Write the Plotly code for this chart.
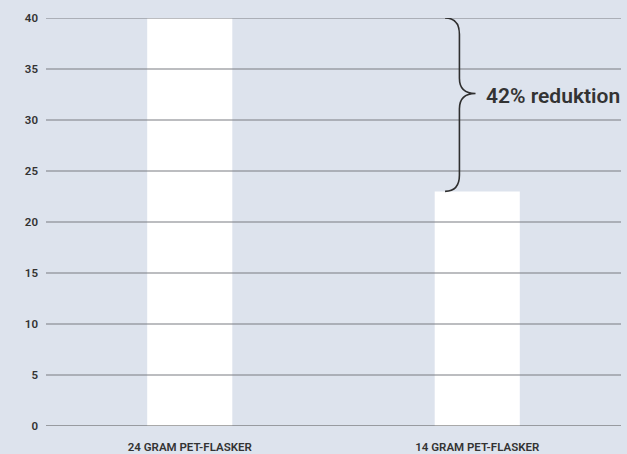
import plotly.graph_objects as go

categories = ["24 GRAM PET-FLASKER", "14 GRAM PET-FLASKER"]
values = [40, 23]
y_ticks = [0, 5, 10, 15, 20, 25, 30, 35, 40]
brace_top = 40
brace_bottom = 23
brace_point = 32.6
label_text = "42% reduktion"

BG = "#dde3ed"
FONT = "Roboto"

fig = go.Figure()
fig.add_trace(go.Bar(
    x=categories, y=values,
    marker=dict(color="#ffffff", line=dict(width=0)),
    hoverinfo="skip",
))

shapes = []
for t in y_ticks:
    shapes.append(dict(
        type="line", xref="paper", yref="y", x0=0, x1=1, y0=t, y1=t,
        line=dict(color="#555555" if t == 0 else "#7a7d82", width=1.2),
        layer="above",
    ))

# curly brace in paper-x / data-y coordinates
x0, xs, xp = 0.694, 0.719, 0.747
path = (
    f"M {x0},{brace_top} "
    f"Q {xs},{brace_top} {xs},{brace_top-1.6} "
    f"L {xs},{brace_point+1.5} "
    f"Q {xs},{brace_point} {xp},{brace_point} "
    f"Q {xs},{brace_point} {xs},{brace_point-1.5} "
    f"L {xs},{brace_bottom+1.6} "
    f"Q {xs},{brace_bottom} {x0},{brace_bottom}"
)
shapes.append(dict(type="path", xref="paper", yref="y", path=path,
                   line=dict(color="#2f2f2f", width=1.6), layer="above"))

fig.update_layout(
    width=627, height=454,
    margin=dict(l=46, r=6, t=18, b=28),
    paper_bgcolor=BG, plot_bgcolor=BG,
    showlegend=False,
    bargap=0.704,
    shapes=shapes,
    font=dict(family=FONT, color="#333333"),
    annotations=[dict(
        xref="paper", yref="y", x=0.762, y=brace_point - 0.2,
        text=label_text, showarrow=False, xanchor="left", yanchor="middle",
        font=dict(family=FONT, size=21, color="#333333", weight=600),
    )],
    xaxis=dict(
        showgrid=False, zeroline=False, showline=False, automargin=False,
        ticks="", ticklabelstandoff=12,
        tickfont=dict(family=FONT, size=11.5, color="#333333", weight=600),
    ),
    yaxis=dict(
        range=[0, 40], tickvals=y_ticks, showgrid=False, zeroline=False,
        showline=False, ticks="", ticklabelstandoff=7, automargin=False,
        tickfont=dict(family=FONT, size=11.5, color="#333333", weight=600),
    ),
)

fig.write_html(
    "out.html",
    config=dict(displayModeBar=False),
    post_script="document.body.style.margin='0';document.body.style.padding='0';"
                "document.body.style.overflow='hidden';",
)
